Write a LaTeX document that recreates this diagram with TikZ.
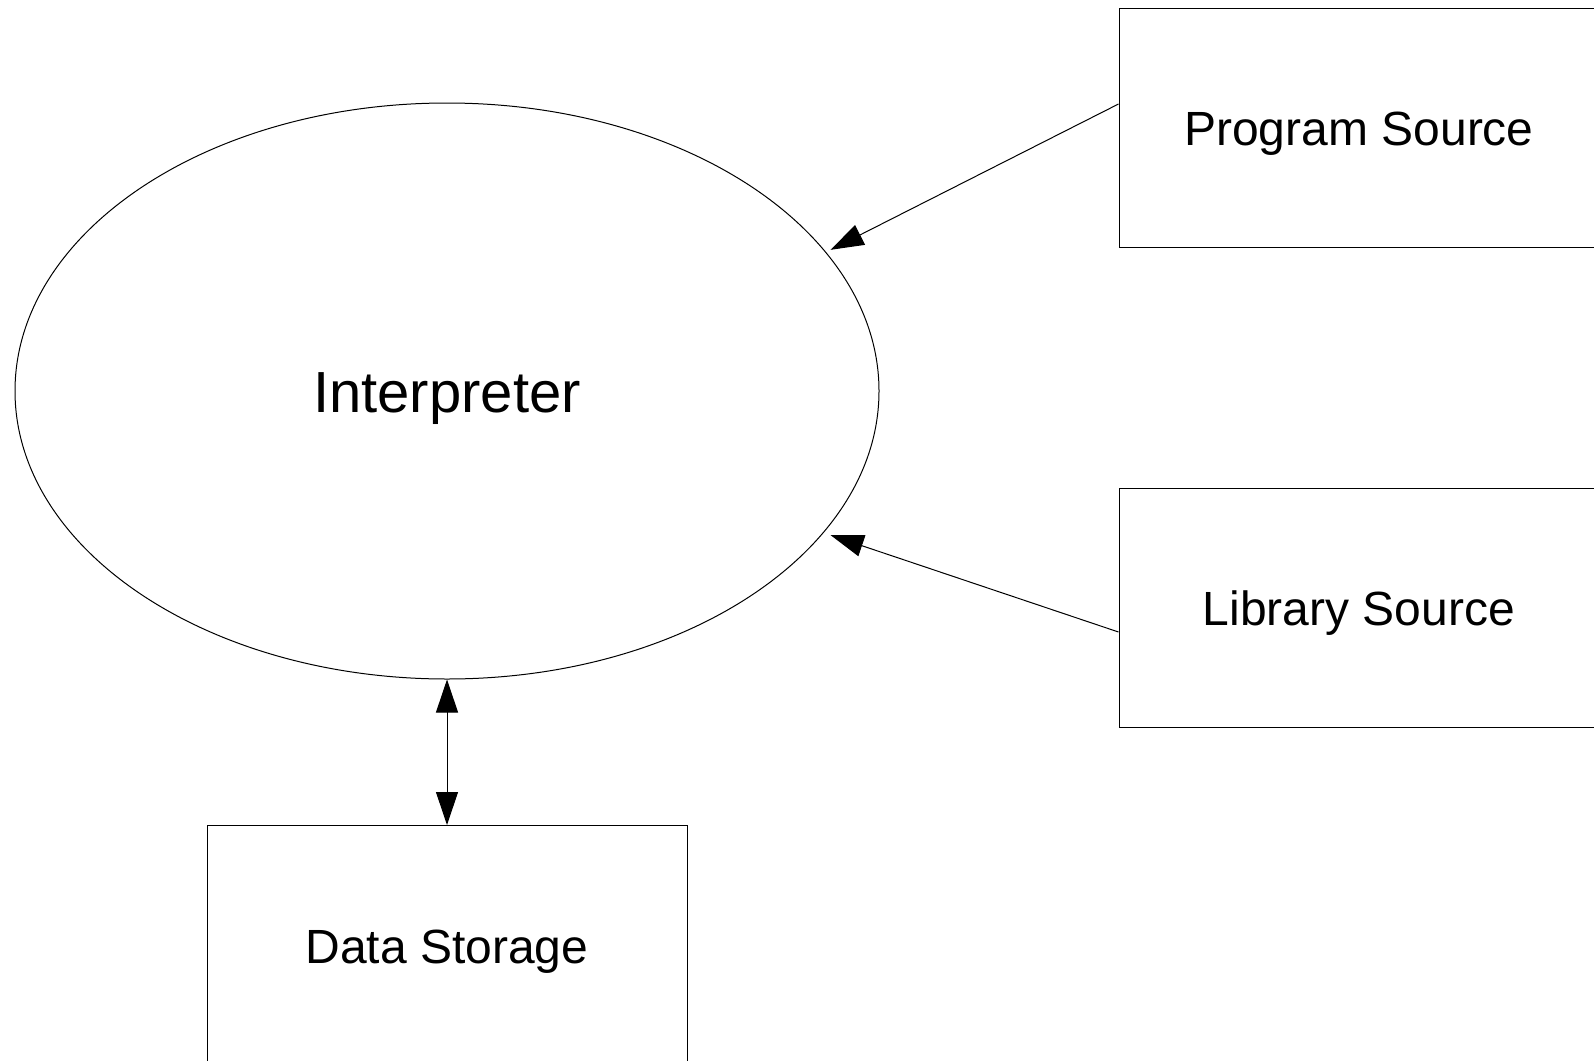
\documentclass[tikz,border=0pt]{standalone}
\usepackage{fontspec}
\setmainfont{Liberation Sans}
\usetikzlibrary{shapes.geometric,arrows.meta}
\begin{document}
\begin{tikzpicture}[x=1pt,y=-1pt,
  box/.style={draw,line width=1pt,minimum width=480pt,minimum height=239pt,inner sep=0pt,text height=46pt,font=\fontsize{48}{56}\selectfont},
  arr/.style={line width=1pt,-{Triangle[length=33pt,width=22pt]}},
  darr/.style={line width=1pt,{Triangle[length=33pt,width=22pt]}-{Triangle[length=33pt,width=22pt]}}]
\useasboundingbox (0,0) rectangle (1594,1060);
\clip (0,0) rectangle (1594,1060);
\node[draw,ellipse,line width=1pt,minimum width=864pt,minimum height=576pt,inner sep=0pt,text height=55pt,font=\fontsize{58}{66}\selectfont] (interp) at (447,391) {Interpreter};
\node[box] (prog) at (1359,127.5) {Program Source};
\node[box] (lib) at (1359,607.5) {Library Source};
\node[box] (store) at (447,945) {Data Storage};
\draw[arr] ([yshift=23.5pt]prog.west) -- ([shift={(4pt,3pt)}]interp.20.5);
\draw[arr] ([yshift=-24.5pt]lib.west) -- ([shift={(4pt,-6pt)}]interp.-20.6);
\draw[darr] (interp.south) -- (store.north);
\end{tikzpicture}
\end{document}
